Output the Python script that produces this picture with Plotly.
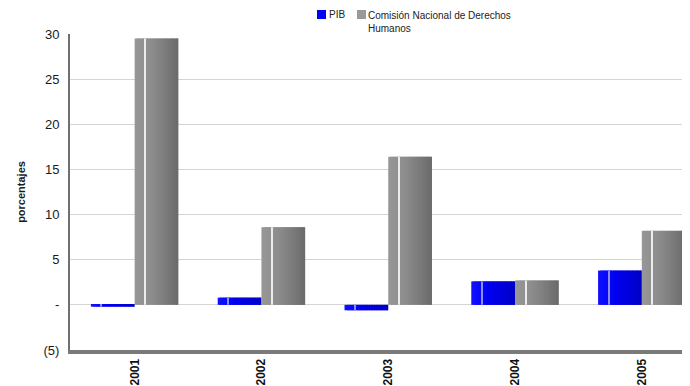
import plotly.graph_objects as go

years = ["2001", "2002", "2003", "2004", "2005"]
pib = [-0.2, 0.8, -0.6, 2.6, 3.8]
cndh = [29.5, 8.6, 16.4, 2.7, 8.2]
series_names = ["PIB", "Comisión Nacional de Derechos<br>Humanos"]
y_tickvals = [-5, 0, 5, 10, 15, 20, 25, 30]
y_ticktext = ["(5)", "-", "5", "10", "15", "20", "25", "30"]


def lerp(c1, c2, t):
    return "rgb(%d,%d,%d)" % tuple(round(a + (b - a) * t) for a, b in zip(c1, c2))


def strip_colors(left, mid, right, k):
    out = []
    for i in range(k):
        t = i / (k - 1)
        if t < 0.4:
            out.append(lerp(left, mid, t / 0.4))
        else:
            out.append(lerp(mid, right, (t - 0.4) / 0.6))
    return out


N = 18
gray_strips = strip_colors((150, 150, 150), (140, 140, 140), (108, 108, 108), N)
blue_strips = strip_colors((16, 16, 255), (0, 0, 240), (0, 0, 200), N)
bar_w = 0.345
sw = bar_w / N

fig = go.Figure()
for vals, strips, start, hl in [(pib, blue_strips, -bar_w, "#8c8cff"),
                                (cndh, gray_strips, 0.0, "#ececec")]:
    for i, c in enumerate(strips):
        w = sw * (1.8 if i < N - 1 else 1.0)
        fig.add_trace(go.Bar(
            x=years, y=vals, width=[w] * len(years), offset=start + i * sw,
            marker=dict(color=c, line=dict(width=0)),
            showlegend=False, hoverinfo="skip"))
    # thin highlight line (cylinder reflection)
    fig.add_trace(go.Bar(
        x=years, y=vals, width=[0.008] * len(years), offset=start + bar_w * 0.23,
        marker=dict(color=hl, line=dict(width=0)),
        showlegend=False, hoverinfo="skip"))

# legend drawn with shapes + annotations (compact, like the original)
PX0, PW, PY0, PH = 70, 620, 350, 316  # plot area in window pixels


def px(x):
    return (x - PX0) / PW


def py(y):
    return (PY0 - y) / PH


fig.add_shape(type="rect", xref="paper", yref="paper",
              x0=px(318), x1=px(508), y0=py(36), y1=py(30),
              fillcolor="white", line=dict(width=0), layer="above")
for x0, col in [(317, "#0000ff"), (357, "#999999")]:
    fig.add_shape(type="rect", xref="paper", yref="paper",
                  x0=px(x0), x1=px(x0 + 9), y0=py(19), y1=py(10),
                  fillcolor=col, line=dict(width=0), layer="above")
fig.add_annotation(x=px(327), y=py(14.5), xref="paper", yref="paper",
                   text=series_names[0], showarrow=False,
                   xanchor="left", yanchor="middle",
                   font=dict(size=10, color="#222"))
fig.add_annotation(x=px(366), y=py(8), xref="paper", yref="paper",
                   text=series_names[1], align="left",
                   showarrow=False, xanchor="left", yanchor="top",
                   font=dict(size=10, color="#222"))

# the page body adds an 8px margin, so the figure is sized/placed to compensate
fig.update_layout(
    width=682, height=378,
    margin=dict(l=62, r=0, t=26, b=36),
    paper_bgcolor="white", plot_bgcolor="white",
    barmode="overlay",
    font=dict(family="Liberation Sans, Arial, sans-serif", color="#1a1a1a"),
    showlegend=False,
    xaxis=dict(type="category", range=[-0.51, 4.38], showline=True,
               linecolor="#7a7a7a", linewidth=4, tickangle=-90,
               tickfont=dict(size=12, weight="bold", color="#111"),
               showgrid=False, ticks="", automargin=False, ticklabelstandoff=0),
    yaxis=dict(range=[-5, 30], tickvals=y_tickvals, ticktext=y_ticktext,
               showline=True, linecolor="#707070", linewidth=2,
               gridcolor="#d4d4d4", zeroline=False, ticks="",
               ticklabelstandoff=6, automargin=False,
               tickfont=dict(size=13, color="#1a1a1a"),
               title=dict(text="porcentajes", font=dict(size=11, weight="bold"),
                          standoff=16)),
)

fig.write_html("out.html")
